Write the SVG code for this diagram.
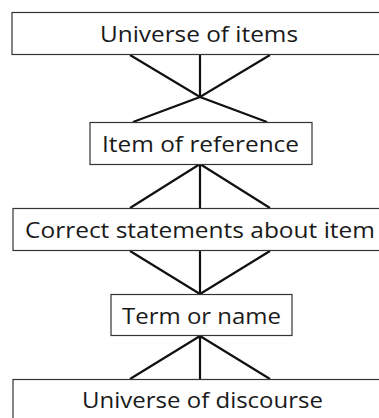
<svg xmlns="http://www.w3.org/2000/svg" width="379" height="418" viewBox="0 0 379 418">
<style>
.box{fill:#fff;stroke:#333;stroke-width:1.2}
.lbl{font-family:"Open Sans","Liberation Sans",sans-serif;font-size:22.5px;fill:#1a1a1a;text-anchor:middle}
.con{stroke:#111;stroke-width:2.2;fill:none}
</style>
<rect width="379" height="418" fill="#fff"/>
<g id="connectors">
<path class="con" d="M130,55 L200,97 L267,122 M200,55 L200,97 M270,55 L200,97 L133,122"/>
<path class="con" d="M200,164 L130,208 M200,164 L200,208 M200,164 L270,208"/>
<path class="con" d="M130,251 L200,294 M200,251 L200,294 M270,251 L200,294"/>
<path class="con" d="M200,336 L130,379 M200,336 L200,379 M200,336 L270,379"/>
</g>
<g id="n1"><rect class="box" x="12" y="12.5" width="380" height="42"/><text class="lbl" x="199" y="42" textLength="198" lengthAdjust="spacingAndGlyphs">Universe of items</text></g>
<g id="n2"><rect class="box" x="90" y="122.5" width="222" height="42"/><text class="lbl" x="200.5" y="152" textLength="197" lengthAdjust="spacingAndGlyphs">Item of reference</text></g>
<g id="n3"><rect class="box" x="13" y="208.5" width="380" height="42"/><text class="lbl" x="200" y="238" textLength="350" lengthAdjust="spacingAndGlyphs">Correct statements about item</text></g>
<g id="n4"><rect class="box" x="111" y="294.5" width="181" height="41"/><text class="lbl" x="201.5" y="324" textLength="159" lengthAdjust="spacingAndGlyphs">Term or name</text></g>
<g id="n5"><rect class="box" x="13" y="379.5" width="380" height="60"/><text class="lbl" x="202.5" y="408" textLength="241" lengthAdjust="spacingAndGlyphs">Universe of discourse</text></g>
</svg>
